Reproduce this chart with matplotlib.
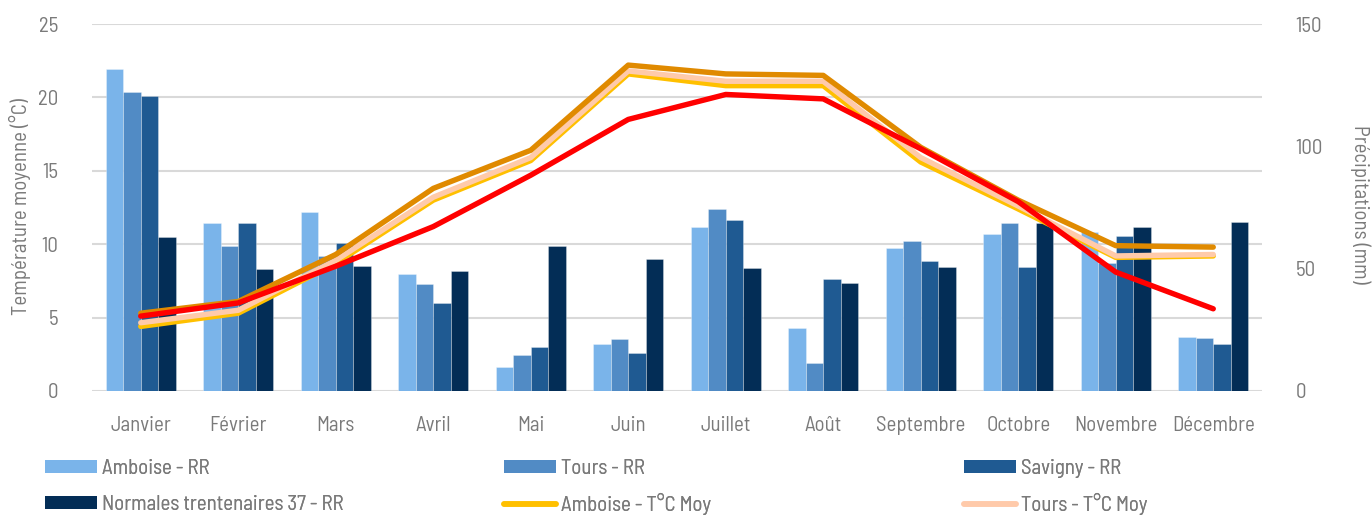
import matplotlib
matplotlib.use("Agg")
import matplotlib.pyplot as plt
from matplotlib.patches import Patch
from matplotlib.lines import Line2D
import numpy as np

months = ["Janvier", "Février", "Mars", "Avril", "Mai", "Juin", "Juillet", "Août",
          "Septembre", "Octobre", "Novembre", "Décembre"]
# precipitation (mm), right axis
rr_amboise = [131.6, 68.7, 73.2, 47.7, 9.7, 19.1, 66.9, 25.6, 58.6, 64.0, 64.8, 22.1]
rr_tours = [122.3, 59.1, 55.2, 43.6, 14.7, 21.3, 74.4, 11.6, 61.2, 68.5, 52.4, 21.7]
rr_savigny = [120.6, 68.7, 60.6, 35.8, 18.1, 15.7, 69.9, 45.6, 53.0, 50.8, 63.5, 19.2]
rr_normales = [62.8, 50.0, 51.0, 49.2, 59.3, 53.8, 50.1, 44.3, 50.7, 68.5, 66.9, 69.1]
# mean temperature (°C), left axis
t_amboise = [4.4, 5.3, 8.7, 13.0, 15.7, 21.6, 20.8, 20.8, 15.6, 12.4, 9.1, 9.2]
t_tours = [4.65, 5.5, 8.9, 13.2, 15.9, 21.8, 21.1, 21.1, 15.9, 12.6, 9.2, 9.3]
t_savigny = [5.3, 6.1, 9.3, 13.8, 16.4, 22.2, 21.6, 21.5, 16.6, 13.0, 9.9, 9.8]
t_normales = [5.1, 6.0, 8.5, 11.2, 14.7, 18.5, 20.2, 19.9, 16.5, 12.9, 8.1, 5.6]

bar_series = [("Amboise - RR", rr_amboise, "#7AB4EA"), ("Tours - RR", rr_tours, "#518BC5"),
              ("Savigny - RR", rr_savigny, "#1F5A92"), ("Normales trentenaires 37 - RR", rr_normales, "#032D56")]
line_series = [("Amboise - T°C Moy", t_amboise, "#FFC000"), ("Tours - T°C Moy", t_tours, "#FFCAAA"),
               ("Savigny - T°C Moy", t_savigny, "#E08A00"), ("Normales trentenaires 37 - T°C Moy", t_normales, "#FF0000")]

plt.rcParams["font.family"] = ["Barlow Semi Condensed", "DejaVu Sans"]
GREY = "#7A7A7A"
FS = 15

fig = plt.figure(figsize=(13.72, 5.15), dpi=100)
ax = fig.add_axes([92 / 1372, 124 / 515, 1170 / 1372, 367 / 515])
axt = ax.twinx()
x = np.arange(len(months))
w = 0.18
for v in np.arange(0, 151, 30):
    ax.axhline(v, color="#D9D9D9", lw=1.5, zorder=0)
for i, (name, vals, col) in enumerate(bar_series):
    ax.bar(x + (i - 1.5) * w, vals, w, color=col, edgecolor=(1, 1, 1, 0.35), linewidth=0.6, zorder=2)
ax.set_xlim(-0.5, 11.5)
ax.set_ylim(0, 150)
ax.set_yticks([0, 50, 100, 150])
ax.yaxis.tick_right()
ax.set_xticks(x, months)
for s in ax.spines.values():
    s.set_visible(False)
ax.tick_params(length=0, colors=GREY, labelsize=FS)
ax.tick_params(axis="y", pad=24)
ax.tick_params(axis="x", pad=18)

for name, vals, col in line_series:
    axt.plot(x, vals, color=col, lw=3.9, solid_capstyle="round", zorder=3)
axt.set_ylim(0, 25)
axt.set_yticks(np.arange(0, 26, 5))
axt.yaxis.tick_left()
for s in axt.spines.values():
    s.set_visible(False)
axt.tick_params(length=0, colors=GREY, labelsize=FS, pad=24)

# axis titles placed by pixel centre
fig.text(20 / 1372, 1 - 207 / 515, "Température moyenne (°C)", rotation=90, ha="center", va="center",
         color=GREY, fontsize=FS)
fig.text(1360 / 1372, 1 - 204 / 515, "Précipitations (mm)", rotation=-90, ha="center", va="center",
         color=GREY, fontsize=FS)

# legend: one small legend per cell so the rows line up like the original
bar_h = [Patch(facecolor=c) for _, _, c in bar_series]
line_h = [Line2D([], [], color=c, lw=4, solid_capstyle="round") for _, _, c in line_series]
cells = [(bar_h[0], bar_series[0][0], 45, 468), (bar_h[1], bar_series[1][0], 504, 468),
         (bar_h[2], bar_series[2][0], 964, 468), (bar_h[3], bar_series[3][0], 45, 504),
         (line_h[0], line_series[0][0], 504, 504), (line_h[1], line_series[1][0], 964, 504)]
for h, lab, px, py in cells:
    fig.add_artist(fig.legend([h], [lab], loc="center left", bbox_to_anchor=(px / 1372, 1 - py / 515),
                              frameon=False, fontsize=FS, labelcolor=GREY, handlelength=2.5, handleheight=0.6,
                              handletextpad=0.25, borderpad=0, borderaxespad=0))

fig.savefig("out.png", dpi=100)
